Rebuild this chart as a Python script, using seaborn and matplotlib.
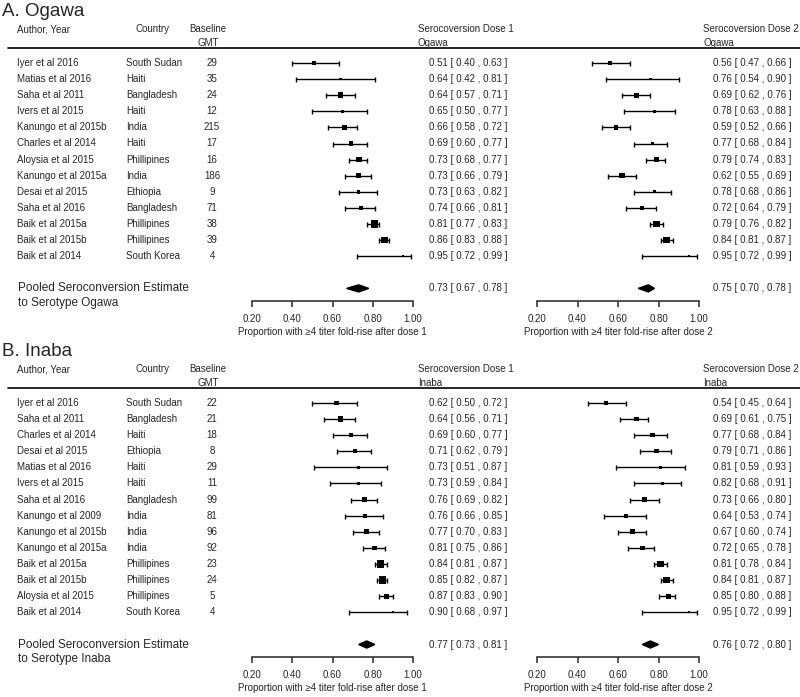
import numpy as np
import matplotlib
matplotlib.use('Agg')
import matplotlib.pyplot as plt
import matplotlib.transforms as mtransforms
from matplotlib.lines import Line2D
import seaborn as sns

# ---- Data: A. Ogawa ----
ogawa_studies = ['Iyer et al 2016', 'Matias et al 2016', 'Saha et al 2011', 'Ivers et al 2015',
                 'Kanungo et al 2015b', 'Charles et al 2014', 'Aloysia et al 2015',
                 'Kanungo et al 2015a', 'Desai et al 2015', 'Saha et al 2016',
                 'Baik et al 2015a', 'Baik et al 2015b', 'Baik et al 2014']
ogawa_countries = ['South Sudan', 'Haiti', 'Bangladesh', 'Haiti', 'India', 'Haiti', 'Phillipines',
                   'India', 'Ethiopia', 'Bangladesh', 'Phillipines', 'Phillipines', 'South Korea']
ogawa_gmt = [29, 35, 24, 12, 215, 17, 16, 186, 9, 71, 38, 39, 4]
ogawa_d1_est = [0.51, 0.64, 0.64, 0.65, 0.66, 0.69, 0.73, 0.73, 0.73, 0.74, 0.81, 0.86, 0.95]
ogawa_d1_lo = [0.40, 0.42, 0.57, 0.50, 0.58, 0.60, 0.68, 0.66, 0.63, 0.66, 0.77, 0.83, 0.72]
ogawa_d1_hi = [0.63, 0.81, 0.71, 0.77, 0.72, 0.77, 0.77, 0.79, 0.82, 0.81, 0.83, 0.88, 0.99]
ogawa_d1_wt = [4, 2.5, 5.5, 3, 5.5, 4, 5.5, 5, 3.5, 4, 7, 6.5, 2]
ogawa_d2_est = [0.56, 0.76, 0.69, 0.78, 0.59, 0.77, 0.79, 0.62, 0.78, 0.72, 0.79, 0.84, 0.95]
ogawa_d2_lo = [0.47, 0.54, 0.62, 0.63, 0.52, 0.68, 0.74, 0.55, 0.68, 0.64, 0.76, 0.81, 0.72]
ogawa_d2_hi = [0.66, 0.90, 0.76, 0.88, 0.66, 0.84, 0.83, 0.69, 0.86, 0.79, 0.82, 0.87, 0.99]
ogawa_d2_wt = [4.5, 2.5, 5, 2.5, 4.5, 3.5, 5, 5, 3, 4, 6.5, 6.5, 2]
ogawa_pooled_d1 = (0.73, 0.67, 0.78)
ogawa_pooled_d2 = (0.75, 0.70, 0.78)

# ---- Data: B. Inaba ----
inaba_studies = ['Iyer et al 2016', 'Saha et al 2011', 'Charles et al 2014', 'Desai et al 2015',
                 'Matias et al 2016', 'Ivers et al 2015', 'Saha et al 2016', 'Kanungo et al 2009',
                 'Kanungo et al 2015b', 'Kanungo et al 2015a', 'Baik et al 2015a',
                 'Baik et al 2015b', 'Aloysia et al 2015', 'Baik et al 2014']
inaba_countries = ['South Sudan', 'Bangladesh', 'Haiti', 'Ethiopia', 'Haiti', 'Haiti', 'Bangladesh',
                   'India', 'India', 'India', 'Phillipines', 'Phillipines', 'Phillipines', 'South Korea']
inaba_gmt = [22, 21, 18, 8, 29, 11, 99, 81, 96, 92, 23, 24, 5, 4]
inaba_d1_est = [0.62, 0.64, 0.69, 0.71, 0.73, 0.73, 0.76, 0.76, 0.77, 0.81, 0.84, 0.85, 0.87, 0.90]
inaba_d1_lo = [0.50, 0.56, 0.60, 0.62, 0.51, 0.59, 0.69, 0.66, 0.70, 0.75, 0.81, 0.82, 0.83, 0.68]
inaba_d1_hi = [0.72, 0.71, 0.77, 0.79, 0.87, 0.84, 0.82, 0.85, 0.83, 0.86, 0.87, 0.87, 0.90, 0.97]
inaba_d1_wt = [4, 5.5, 4, 4, 2.5, 3, 4.5, 4, 4.5, 4.5, 7, 7, 5, 2]
inaba_d2_est = [0.54, 0.69, 0.77, 0.79, 0.81, 0.82, 0.73, 0.64, 0.67, 0.72, 0.81, 0.84, 0.85, 0.95]
inaba_d2_lo = [0.45, 0.61, 0.68, 0.71, 0.59, 0.68, 0.66, 0.53, 0.60, 0.65, 0.78, 0.81, 0.80, 0.72]
inaba_d2_hi = [0.64, 0.75, 0.84, 0.86, 0.93, 0.91, 0.80, 0.74, 0.74, 0.78, 0.84, 0.87, 0.88, 0.99]
inaba_d2_wt = [4, 4.5, 4, 4, 2.5, 3, 4.5, 4, 4.5, 4.5, 6.5, 6.5, 5, 2]
inaba_pooled_d1 = (0.77, 0.73, 0.81)
inaba_pooled_d2 = (0.76, 0.72, 0.80)

ticks = [0.2, 0.4, 0.6, 0.8, 1.0]

# ---- Layout (pixels) ----
W, H = 800, 697
ROW_SP = 16.1
FS = 7


def fx(x):
    return x / W


def fy(y):
    return 1 - y / H


def ci_text(est, lo, hi):
    return f'{est:.2f} [ {lo:.2f} , {hi:.2f} ]'


def forest_axis(fig, left, width, row0, pooled_idx, xlabel):
    top = row0 - 0.5 * ROW_SP
    bottom = row0 + (pooled_idx + 0.8) * ROW_SP
    ax = fig.add_axes([fx(left), fy(bottom), fx(width), (bottom - top) / H])
    ax.set_xlim(0.2, 1.0)
    ax.set_ylim(pooled_idx + 0.8, -0.5)
    for side in ['top', 'left', 'right']:
        ax.spines[side].set_visible(False)
    ax.spines['bottom'].set_linewidth(1.1)
    ax.set_yticks([])
    ax.set_xticks(ticks)
    ax.set_xticklabels([f'{t:.2f}' for t in ticks], fontsize=FS)
    ax.tick_params(axis='x', direction='out', length=4, width=1.1, pad=5, bottom=True)
    ax.set_xlabel(xlabel, fontsize=FS, labelpad=2)
    ax.patch.set_alpha(0)
    return ax


def draw_forest(ax, est, lo, hi, wt, pooled, pooled_idx, text_x):
    est, lo, hi = np.array(est), np.array(lo), np.array(hi)
    rows = np.arange(len(est))
    ax.errorbar(est, rows, xerr=[est - lo, hi - est], fmt='none', ecolor='black',
                elinewidth=1, capsize=1.8, capthick=1, clip_on=False)
    sizes = (np.array(wt) * 0.75) ** 2
    sns.scatterplot(x=est, y=rows, marker='s', s=sizes, color='black', linewidth=0,
                    ax=ax, legend=False, clip_on=False, zorder=3)
    p_est, p_lo, p_hi = pooled
    h = 0.22
    ax.fill([p_lo, p_est, p_hi, p_est], [pooled_idx, pooled_idx - h, pooled_idx, pooled_idx + h],
            color='black', clip_on=False)
    trans = mtransforms.blended_transform_factory(ax.figure.transFigure, ax.transData)
    for r, e, l, u in zip(rows, est, lo, hi):
        ax.text(fx(text_x), r, ci_text(e, l, u), transform=trans, fontsize=FS,
                va='center', ha='left')
    ax.text(fx(text_x), pooled_idx, ci_text(p_est, p_lo, p_hi), transform=trans,
            fontsize=FS, va='center', ha='left')


def draw_panel(fig, off, title, serotype, studies, countries, gmt,
               d1, d2, pooled_d1, pooled_d2):
    row0 = 63 + off
    n = len(studies)
    pooled_idx = n + 1

    fig.text(fx(2), fy(12 + off), title, fontsize=13.5, va='center', ha='left')
    fig.text(fx(17), fy(29 + off), 'Author, Year', fontsize=FS, va='center')
    fig.text(fx(135), fy(29 + off), 'Country', fontsize=FS, va='center')
    fig.text(fx(208), fy(29 + off), 'Baseline', fontsize=FS, va='center', ha='center')
    fig.text(fx(208), fy(43 + off), 'GMT', fontsize=FS, va='center', ha='center')
    fig.text(fx(418), fy(29 + off), 'Serocoversion Dose 1', fontsize=FS, va='center')
    fig.text(fx(418), fy(43 + off), serotype, fontsize=FS, va='center')
    fig.text(fx(703), fy(29 + off), 'Serocoversion Dose 2', fontsize=FS, va='center')
    fig.text(fx(703), fy(43 + off), serotype, fontsize=FS, va='center')
    fig.add_artist(Line2D([fx(8), 1], [fy(48 + off)] * 2, transform=fig.transFigure,
                          color='black', lw=1.2))

    ax1 = forest_axis(fig, 252, 161, row0, pooled_idx,
                      'Proportion with \u22654 titer fold-rise after dose 1')
    ax2 = forest_axis(fig, 537, 162, row0, pooled_idx,
                      'Proportion with \u22654 titer fold-rise after dose 2')
    draw_forest(ax1, *d1, pooled_d1, pooled_idx, 429)
    draw_forest(ax2, *d2, pooled_d2, pooled_idx, 713)

    trans = mtransforms.blended_transform_factory(fig.transFigure, ax1.transData)
    for r, (s, c, g) in enumerate(zip(studies, countries, gmt)):
        ax1.text(fx(17), r, s, transform=trans, fontsize=FS, va='center', ha='left')
        ax1.text(fx(126), r, c, transform=trans, fontsize=FS, va='center', ha='left')
        ax1.text(fx(212), r, str(g), transform=trans, fontsize=FS, va='center', ha='center')
    ax1.text(fx(18), pooled_idx, 'Pooled Seroconversion Estimate', transform=trans,
             fontsize=8.5, va='center', ha='left')
    ax1.text(fx(18), pooled_idx + 0.9, f'to Serotype {serotype}', transform=trans,
             fontsize=8.5, va='center', ha='left')


sns.set_style('white')
plt.rcParams['font.family'] = ['Liberation Sans', 'DejaVu Sans']

fig = plt.figure(figsize=(8, 6.97), dpi=100)

draw_panel(fig, 0, 'A. Ogawa', 'Ogawa', ogawa_studies, ogawa_countries, ogawa_gmt,
           (ogawa_d1_est, ogawa_d1_lo, ogawa_d1_hi, ogawa_d1_wt),
           (ogawa_d2_est, ogawa_d2_lo, ogawa_d2_hi, ogawa_d2_wt),
           ogawa_pooled_d1, ogawa_pooled_d2)
draw_panel(fig, 340, 'B. Inaba', 'Inaba', inaba_studies, inaba_countries, inaba_gmt,
           (inaba_d1_est, inaba_d1_lo, inaba_d1_hi, inaba_d1_wt),
           (inaba_d2_est, inaba_d2_lo, inaba_d2_hi, inaba_d2_wt),
           inaba_pooled_d1, inaba_pooled_d2)

fig.savefig('out.png', dpi=100)
